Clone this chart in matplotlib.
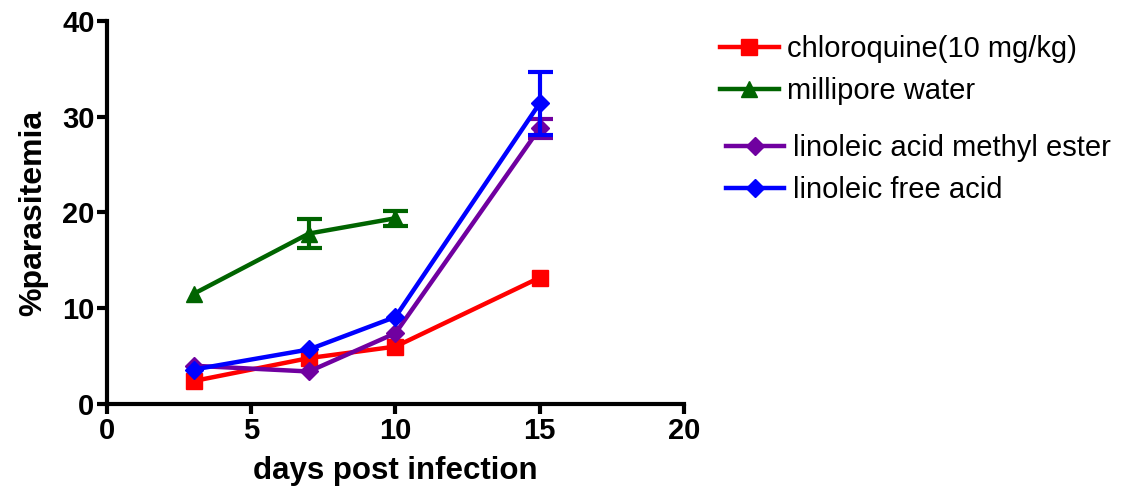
import matplotlib.pyplot as plt
import numpy as np

plt.rcParams['font.family'] = ['Liberation Sans', 'DejaVu Sans']

days = [3, 7, 10, 15]
days_water = [3, 7, 10]

chloroquine = [2.4, 4.8, 6.0, 13.2]
chloroquine_err = [0, 0, 0, 0]
water = [11.5, 17.8, 19.4]
water_err = [0, 1.5, 0.8]
methyl_ester = [4.0, 3.4, 7.4, 28.8]
methyl_ester_err = [0, 0, 0, 1.0]
free_acid = [3.6, 5.7, 9.1, 31.4]
free_acid_err = [0, 0, 0, 3.3]

fig = plt.figure(figsize=(11.47, 4.97), dpi=100)
ax = fig.add_axes([0.0933, 0.187, 0.503, 0.771])

series = [
    (days, chloroquine, chloroquine_err, '#ff0000', 's', 11, 'chloroquine(10 mg/kg)'),
    (days_water, water, water_err, '#006400', '^', 11, 'millipore water'),
    (days, methyl_ester, methyl_ester_err, '#7000a0', 'D', 9, 'linoleic acid methyl ester'),
    (days, free_acid, free_acid_err, '#0000ff', 'D', 9, 'linoleic free acid'),
]

handles = []
for x, y, e, c, m, ms, lab in series:
    h, = ax.plot(x, y, color=c, marker=m, markersize=ms, lw=3.2, label=lab)
    handles.append(h)
    x, y, e = np.array(x), np.array(y), np.array(e)
    k = e > 0
    if k.any():
        ax.errorbar(x[k], y[k], yerr=e[k], fmt='none', ecolor=c,
                    elinewidth=3, capsize=9, capthick=3)

ax.set_xlim(0, 20)
ax.set_ylim(0, 40)
ax.set_xticks([0, 5, 10, 15, 20])
ax.set_yticks([0, 10, 20, 30, 40])
for s in ['top', 'right']:
    ax.spines[s].set_visible(False)
for s in ['left', 'bottom']:
    ax.spines[s].set_linewidth(3)
ax.tick_params(width=3, length=7, labelsize=21, pad=2)
for t in ax.get_xticklabels() + ax.get_yticklabels():
    t.set_fontweight('bold')

ax.set_xlabel('days post infection', fontsize=22.5, fontweight='bold', labelpad=8)
ax.set_ylabel('%parasitemia', fontsize=23, fontweight='bold', labelpad=10)

leg_kw = dict(loc='upper left', frameon=False, fontsize=21, handlelength=2.0,
              handletextpad=0.3, labelspacing=0.48, borderpad=0, borderaxespad=0)
leg1 = fig.legend(handles=handles[:2], labels=[s[6] for s in series[:2]],
                  bbox_to_anchor=(0.628, 0.93), **leg_kw)
leg2 = fig.legend(handles=handles[2:], labels=[s[6] for s in series[2:]],
                  bbox_to_anchor=(0.633, 0.73), **leg_kw)

fig.savefig('out.png', dpi=100)
